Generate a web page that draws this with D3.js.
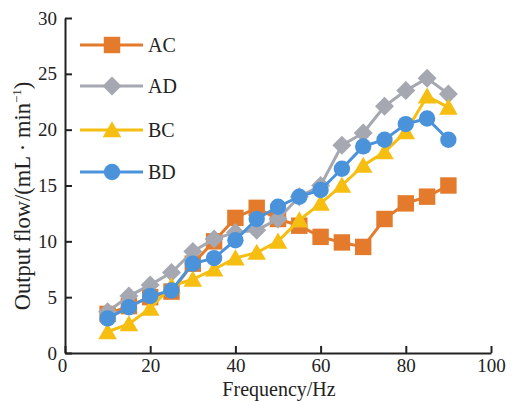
<!DOCTYPE html>
<html lang="en">
<head>
    <meta charset="UTF-8">
    <title>output flow</title>
    <style>
        body { margin: 0; background: #fff; }
        svg { display: block; }
        text { font-family: "Liberation Serif", "Times New Roman", serif; fill: #222; }
    </style>
</head>
<body>
<script src="https://cdnjs.cloudflare.com/ajax/libs/d3/7.8.5/d3.min.js"></script>
<script>
    // data
    var freq = [10, 15, 20, 25, 30, 35, 40, 45, 50, 55, 60, 65, 70, 75, 80, 85, 90];
    var AC = [3.5, 4.2, 5.0, 5.5, 8.0, 10.0, 12.1, 13.0, 12.0, 11.4, 10.4, 9.9, 9.5, 12.0, 13.4, 14.0, 15.0];
    var AD = [3.7, 5.1, 6.1, 7.2, 9.1, 10.2, 10.8, 11.0, 12.0, 14.0, 15.0, 18.6, 19.7, 22.1, 23.5, 24.6, 23.2];
    var BC = [1.9, 2.6, 4.0, 6.0, 6.6, 7.5, 8.5, 9.0, 10.0, 11.9, 13.4, 15.0, 16.8, 18.0, 19.8, 23.0, 22.0];
    var BD = [3.1, 4.1, 5.1, 5.6, 8.0, 8.5, 10.1, 12.0, 13.1, 14.0, 14.6, 16.5, 18.5, 19.1, 20.5, 21.0, 19.1];
    var seriesNames = ["AC", "AD", "BC", "BD"];
    var xTicks = [0, 20, 40, 60, 80, 100];
    var yTicks = [0, 5, 10, 15, 20, 25, 30];

    var colors = {AC: "#E47B2C", AD: "#A5A7B1", BC: "#F5BE10", BD: "#4A93DB"};
    var shapes = {
        AC: d3.symbol().type(d3.symbolSquare).size(270),
        AD: d3.symbol().type(d3.symbolSquare).size(180),
        BC: d3.symbol().type(d3.symbolTriangle).size(150),
        BD: d3.symbol().type(d3.symbolCircle).size(210)
    };
    var rot = {AC: 0, AD: 45, BC: 0, BD: 0};
    var values = {AC: AC, AD: AD, BC: BC, BD: BD};

    var svg = d3.select("body").append("svg")
        .attr("width", 515)
        .attr("height", 401);

    var x = d3.scaleLinear().domain([0, 100]).range([65, 491]);
    var y = d3.scaleLinear().domain([0, 30]).range([353, 18]);

    // series
    seriesNames.forEach(function (name) {
        var pts = freq.map(function (f, i) { return [f, values[name][i]]; });
        var g = svg.append("g");
        g.append("path")
            .datum(pts)
            .attr("fill", "none")
            .attr("stroke", colors[name])
            .attr("stroke-width", 3)
            .attr("d", d3.line().x(function (d) { return x(d[0]); }).y(function (d) { return y(d[1]); }));
        g.selectAll("path.m")
            .data(pts)
            .enter()
            .append("path")
            .attr("class", "m")
            .attr("d", shapes[name])
            .attr("fill", colors[name])
            .attr("transform", function (d) {
                var dy = name === "BC" ? 2 : 0;
                return "translate(" + x(d[0]) + "," + (y(d[1]) + dy) + ") rotate(" + rot[name] + ")";
            });
    });

    // axes
    var xAxis = d3.axisBottom(x).tickValues(xTicks).tickSizeInner(-7).tickSizeOuter(0).tickPadding(6);
    var yAxis = d3.axisLeft(y).tickValues(yTicks).tickSizeInner(-7).tickSizeOuter(0).tickPadding(8);

    var gx = svg.append("g").attr("transform", "translate(0,353)").call(xAxis);
    var gy = svg.append("g").attr("transform", "translate(65,0)").call(yAxis);

    [gx, gy].forEach(function (g) {
        g.attr("font-family", null);
        g.select(".domain").attr("stroke", "#222").attr("stroke-width", 2);
        g.selectAll(".tick line").attr("stroke", "#222").attr("stroke-width", 2);
        g.selectAll(".tick text")
            .attr("font-family", "Liberation Serif, serif")
            .attr("font-size", 19)
            .attr("fill", "#222");
    });
    gx.selectAll(".tick text").filter(function (d) { return d === 0; }).attr("dx", -3);

    svg.append("text")
        .attr("x", 279)
        .attr("y", 396)
        .attr("text-anchor", "middle")
        .attr("font-size", 20)
        .text("Frequency/Hz");

    var yt = svg.append("text")
        .attr("transform", "translate(30,196) rotate(-90)")
        .attr("text-anchor", "middle")
        .attr("font-size", 22.5);
    yt.append("tspan").text("Output flow/(mL \u00b7 min");
    yt.append("tspan").attr("font-size", 13).attr("dy", -9).text("\u22121");
    yt.append("tspan").attr("dy", 9).text(")");

    // legend
    var legY = [45, 86, 130, 172];
    var leg = svg.append("g");
    seriesNames.forEach(function (name, i) {
        leg.append("line")
            .attr("x1", 80).attr("x2", 143)
            .attr("y1", legY[i]).attr("y2", legY[i])
            .attr("stroke", colors[name])
            .attr("stroke-width", 3);
        leg.append("path")
            .attr("d", shapes[name])
            .attr("fill", colors[name])
            .attr("transform", "translate(112," + (legY[i] + (name === "BC" ? 2 : 0)) + ") rotate(" + rot[name] + ")");
        leg.append("text")
            .attr("x", 148)
            .attr("y", legY[i] + 7)
            .attr("font-size", 20)
            .text(name);
    });
</script>
</body>
</html>
